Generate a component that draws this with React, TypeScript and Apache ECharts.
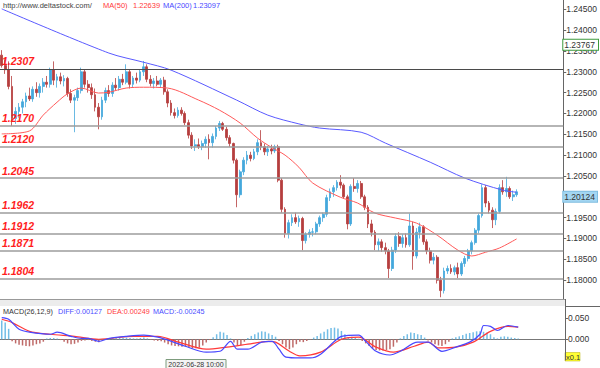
import React, { useEffect, useRef } from 'react';
import * as echarts from 'echarts';

// [open, high, low, close]
const candles: number[][] = [
  [1.2340,1.2352,1.2310,1.2315],[1.2315,1.2330,1.2295,1.2305],[1.2305,1.2325,1.2258,1.2265],[1.2265,1.2290,1.2170,1.2188],
  [1.2188,1.2215,1.2175,1.2205],[1.2205,1.2225,1.2190,1.2215],[1.2215,1.2235,1.2200,1.2228],[1.2228,1.2250,1.2215,1.2242],
  [1.2242,1.2262,1.2230,1.2235],[1.2235,1.2265,1.2228,1.2258],[1.2258,1.2275,1.2240,1.2250],[1.2250,1.2272,1.2238,1.2265],
  [1.2265,1.2285,1.2250,1.2275],[1.2275,1.2290,1.2262,1.2270],[1.2270,1.2310,1.2262,1.2305],[1.2305,1.2325,1.2268,1.2280],
  [1.2280,1.2295,1.2262,1.2288],[1.2288,1.2298,1.2270,1.2278],[1.2278,1.2292,1.2265,1.2284],[1.2284,1.2288,1.2240,1.2248],
  [1.2248,1.2258,1.2225,1.2232],[1.2232,1.2245,1.2155,1.2238],[1.2238,1.2262,1.2230,1.2255],[1.2255,1.2310,1.2248,1.2300],
  [1.2300,1.2305,1.2262,1.2270],[1.2270,1.2280,1.2250,1.2262],[1.2262,1.2272,1.2235,1.2245],[1.2245,1.2260,1.2205,1.2215],
  [1.2215,1.2225,1.2162,1.2192],[1.2192,1.2240,1.2185,1.2232],[1.2232,1.2262,1.2225,1.2255],[1.2255,1.2268,1.2240,1.2248],
  [1.2248,1.2275,1.2240,1.2268],[1.2268,1.2285,1.2255,1.2262],[1.2262,1.2290,1.2255,1.2282],[1.2282,1.2295,1.2268,1.2275],
  [1.2275,1.2318,1.2270,1.2300],[1.2300,1.2305,1.2260,1.2270],[1.2270,1.2290,1.2262,1.2285],[1.2285,1.2298,1.2272,1.2280],
  [1.2280,1.2305,1.2275,1.2300],[1.2300,1.2326,1.2290,1.2312],[1.2312,1.2318,1.2275,1.2282],[1.2282,1.2292,1.2265,1.2272],
  [1.2272,1.2285,1.2260,1.2278],[1.2278,1.2290,1.2265,1.2270],[1.2270,1.2285,1.2262,1.2280],[1.2280,1.2288,1.2245,1.2252],
  [1.2252,1.2258,1.2215,1.2225],[1.2225,1.2232,1.2195,1.2202],[1.2202,1.2212,1.2188,1.2195],[1.2195,1.2215,1.2190,1.2208],
  [1.2208,1.2215,1.2195,1.2200],[1.2200,1.2205,1.2172,1.2178],[1.2178,1.2185,1.2140,1.2148],[1.2148,1.2155,1.2115,1.2122],
  [1.2122,1.2138,1.2110,1.2125],[1.2125,1.2140,1.2115,1.2120],[1.2120,1.2135,1.2112,1.2128],[1.2128,1.2145,1.2118,1.2138],
  [1.2138,1.2150,1.2090,1.2130],[1.2130,1.2152,1.2118,1.2145],[1.2145,1.2170,1.2138,1.2165],[1.2165,1.2182,1.2158,1.2176],
  [1.2176,1.2180,1.2158,1.2162],[1.2162,1.2168,1.2135,1.2142],[1.2142,1.2148,1.2120,1.2128],[1.2128,1.2130,1.2080,1.2088],
  [1.2088,1.2092,1.1975,1.2005],[1.2005,1.2065,1.1998,1.2060],[1.2060,1.2095,1.2052,1.2088],[1.2088,1.2110,1.2078,1.2100],
  [1.2100,1.2108,1.2085,1.2092],[1.2092,1.2115,1.2088,1.2108],[1.2108,1.2138,1.2100,1.2130],[1.2130,1.2160,1.2112,1.2120],
  [1.2120,1.2128,1.2100,1.2108],[1.2108,1.2122,1.2098,1.2115],[1.2115,1.2125,1.2102,1.2110],[1.2110,1.2125,1.2105,1.2120],
  [1.2120,1.2125,1.2035,1.2040],[1.2040,1.2045,1.1962,1.1970],[1.1970,1.1975,1.1902,1.1912],[1.1912,1.1945,1.1900,1.1938],
  [1.1938,1.1958,1.1930,1.1950],[1.1950,1.1962,1.1935,1.1940],[1.1940,1.1955,1.1928,1.1948],[1.1948,1.1952,1.1872,1.1895],
  [1.1895,1.1915,1.1888,1.1910],[1.1910,1.1922,1.1902,1.1915],[1.1915,1.1925,1.1905,1.1916],[1.1916,1.1940,1.1910,1.1935],
  [1.1935,1.1955,1.1928,1.1950],[1.1950,1.1962,1.1940,1.1958],[1.1958,1.2005,1.1952,1.1998],[1.1998,1.2020,1.1990,1.2012],
  [1.2012,1.2028,1.2000,1.2022],[1.2022,1.2040,1.2015,1.2035],[1.2035,1.2052,1.2020,1.2028],[1.2028,1.2032,1.1995,1.2000],
  [1.2000,1.2005,1.1922,1.1935],[1.1935,1.2030,1.1930,1.2025],[1.2025,1.2045,1.2012,1.2020],[1.2020,1.2040,1.2010,1.2032],
  [1.2032,1.2038,1.1995,1.2000],[1.2000,1.2005,1.1968,1.1975],[1.1975,1.1980,1.1925,1.1935],[1.1935,1.1945,1.1905,1.1915],
  [1.1915,1.1920,1.1872,1.1885],[1.1885,1.1900,1.1870,1.1892],[1.1892,1.1898,1.1868,1.1878],[1.1878,1.1890,1.1862,1.1870],
  [1.1870,1.1875,1.1805,1.1828],[1.1828,1.1880,1.1822,1.1872],[1.1872,1.1912,1.1865,1.1905],[1.1905,1.1915,1.1880,1.1888],
  [1.1888,1.1910,1.1878,1.1902],[1.1902,1.1912,1.1878,1.1885],[1.1885,1.1960,1.1880,1.1930],[1.1930,1.1940,1.1825,1.1858],
  [1.1858,1.1925,1.1852,1.1915],[1.1915,1.1938,1.1900,1.1928],[1.1928,1.1932,1.1885,1.1892],[1.1892,1.1898,1.1862,1.1870],
  [1.1870,1.1878,1.1840,1.1848],[1.1848,1.1865,1.1838,1.1855],[1.1855,1.1860,1.1792,1.1800],[1.1800,1.1808,1.1759,1.1775],
  [1.1775,1.1830,1.1768,1.1822],[1.1822,1.1835,1.1815,1.1828],[1.1828,1.1838,1.1815,1.1820],[1.1820,1.1835,1.1812,1.1830],
  [1.1830,1.1842,1.1805,1.1815],[1.1815,1.1845,1.1810,1.1840],[1.1840,1.1858,1.1832,1.1852],[1.1852,1.1875,1.1845,1.1870],
  [1.1870,1.1895,1.1862,1.1890],[1.1890,1.1925,1.1885,1.1920],[1.1920,1.1960,1.1912,1.1955],[1.1955,1.2030,1.1950,1.2022],
  [1.2022,1.2028,1.1975,1.1985],[1.1985,1.1990,1.1960,1.1968],[1.1968,1.1975,1.1925,1.1945],[1.1945,1.1972,1.1932,1.1965],
  [1.1965,1.2030,1.1960,1.2022],[1.2022,1.2040,1.2005,1.2012],[1.2012,1.2048,1.2000,1.2020],[1.2020,1.2025,1.1995,1.2000],
  [1.2000,1.2015,1.1990,1.2005],[1.2005,1.2018,1.2000,1.2012],
];

// [candle index, value]
const ma50: number[][] = [
  [0,1.2151],[8,1.2158],[12,1.2196],[16,1.2227],[19,1.2247],[23,1.2261],[28,1.2249],[31,1.2251],[36,1.2261],
  [41,1.2263],[48,1.2261],[57,1.2232],[63,1.2208],[69,1.2177],[74,1.2141],[78,1.2119],[82,1.2100],[86,1.2071],
  [90,1.2033],[98,1.1999],[103,1.1985],[108,1.1961],[114,1.1949],[120,1.1937],[126,1.1908],[132,1.1872],
  [136,1.1858],[140,1.1867],[144,1.1877],[149,1.1899],
];
const ma200: number[][] = [
  [0,1.2451],[31,1.2345],[41,1.2323],[49,1.2304],[68,1.2232],[77,1.2196],[86,1.2175],[92,1.2165],[104,1.2155],
  [111,1.2129],[124,1.2083],[134,1.2045],[145,1.2016],[149,1.2011],
];

const levels = [1.2307, 1.2170, 1.2120, 1.2045, 1.1962, 1.1912, 1.1871, 1.1804];
const askPrice = 1.23767;
const bidPrice = 1.20124;

const macdHist: number[] = [
  0.045,0.040,0.025,-0.005,-0.010,-0.013,-0.015,-0.016,-0.017,-0.015,-0.012,-0.010,-0.006,0.002,0.003,0.003,
  0.002,-0.002,-0.006,-0.010,-0.012,-0.011,-0.008,-0.004,-0.003,-0.002,-0.004,-0.006,-0.007,-0.004,0.000,0.002,
  0.003,0.004,0.004,0.003,0.004,0.003,0.002,0.002,0.003,0.004,0.002,-0.001,-0.003,-0.004,-0.005,-0.008,
  -0.012,-0.015,-0.016,-0.017,-0.018,-0.018,-0.020,-0.022,-0.022,-0.020,-0.015,-0.008,-0.002,0.005,0.012,0.018,
  0.016,0.010,0.002,-0.008,-0.016,-0.014,-0.006,0.003,0.008,0.012,0.016,0.019,0.018,0.014,0.010,0.006,
  -0.004,-0.012,-0.020,-0.024,-0.020,-0.012,-0.006,-0.007,-0.004,-0.001,0.004,0.008,0.014,0.018,0.024,0.027,
  0.028,0.026,0.020,0.012,0.004,0.006,0.004,0.001,-0.004,-0.010,-0.016,-0.022,-0.026,-0.027,-0.027,-0.026,
  -0.024,-0.018,-0.008,0.002,0.008,0.012,0.016,0.015,0.012,0.010,0.004,-0.003,-0.008,-0.012,-0.015,-0.016,
  -0.012,-0.006,0.002,0.005,0.007,0.010,0.013,0.015,0.017,0.019,0.019,0.018,0.016,0.012,0.005,0.002,
  0.006,0.007,0.006,0.004,0.003,0.002,
];
const diffLine: number[][] = [
  [0,0.052],[2,0.048],[5,0.024],[8,0.017],[14,0.012],[16,0.017],[20,0.007],[23,0.002],[25,0.002],[28,-0.005],
  [31,0.002],[36,0.007],[41,0.010],[45,0.005],[49,-0.005],[53,-0.017],[59,-0.031],[63,-0.029],[66,-0.005],
  [68,-0.024],[71,-0.024],[75,-0.007],[78,-0.005],[80,-0.024],[82,-0.043],[86,-0.045],[89,-0.045],[92,-0.036],
  [96,-0.005],[98,0.007],[103,0.010],[105,-0.005],[108,-0.029],[112,-0.038],[115,-0.029],[120,-0.007],
  [123,-0.007],[127,-0.029],[131,-0.019],[135,-0.007],[138,0.012],[139,0.033],[141,0.031],[143,0.021],
  [146,0.033],[149,0.029],
];
const deaLine: number[][] = [
  [0,0.048],[3,0.040],[8,0.019],[14,0.012],[21,0.007],[28,0.000],[38,0.007],[45,0.007],[51,-0.007],[59,-0.024],
  [65,-0.019],[71,-0.012],[77,-0.005],[79,-0.007],[83,-0.029],[86,-0.040],[92,-0.031],[98,0.000],[103,0.005],
  [108,-0.019],[113,-0.031],[119,-0.017],[123,-0.007],[126,-0.021],[131,-0.019],[136,-0.007],[141,0.019],
  [146,0.031],[149,0.029],
];

const emptySlots = 13;
const timeLabel = '2022-06-28 10:00';

const FONT = "'Liberation Sans', Arial, sans-serif";
const NARROW = "'Liberation Sans Narrow', 'Liberation Sans', Arial, sans-serif";

export default function App() {
  const ref = useRef<HTMLDivElement>(null);
  useEffect(() => {
    const chart = echarts.init(ref.current!, null, { renderer: 'svg' });
    const total = candles.length + emptySlots;
    const cats = Array.from({ length: total }, (_, i) => String(i));
    const up = '#44a8dc';
    const down = '#b53e3e';
    const txt = (x: number, y: number, text: string, fill: string, size = 7.5, weight = 'normal', family = FONT) => ({
      type: 'text', x, y, z: 50,
      style: { text, fill, font: `${weight} ${size}px ${family}`, verticalAlign: 'middle' },
    });
    const option: any = {
      animation: false,
      backgroundColor: '#ffffff',
      textStyle: { fontFamily: FONT },
      grid: [
        { left: 0, right: 35, top: 0, height: 301 },
        { left: 0, right: 35, top: 306, height: 54 },
      ],
      xAxis: [
        { type: 'category', gridIndex: 0, data: cats, axisLine: { show: false }, axisTick: { show: false }, axisLabel: { show: false }, splitLine: { show: false } },
        { type: 'category', gridIndex: 1, data: cats, axisLine: { show: true, lineStyle: { color: '#777', width: 1 } }, axisTick: { show: false }, axisLabel: { show: false }, splitLine: { show: false } },
      ],
      yAxis: [
        {
          type: 'value', gridIndex: 0, position: 'right', min: 1.175, max: 1.24723, interval: 0.005, scale: true,
          axisLine: { show: true, lineStyle: { color: '#666' } },
          axisTick: { show: true, length: 3, lineStyle: { color: '#666' } },
          axisLabel: { margin: 3, fontSize: 8.5, color: '#333', fontFamily: NARROW, showMinLabel: false, showMaxLabel: false, formatter: (v: number) => v.toFixed(5) },
          splitLine: { show: false },
        },
        {
          type: 'value', gridIndex: 1, position: 'right', min: -0.05, max: 0.08, interval: 0.05,
          axisLine: { show: true, lineStyle: { color: '#666' } },
          axisTick: { show: true, length: 3, lineStyle: { color: '#666' } },
          axisLabel: { margin: 3, fontSize: 8.5, color: '#333', fontFamily: NARROW, showMinLabel: false, showMaxLabel: false, formatter: (v: number) => v.toFixed(3) },
          splitLine: { show: false },
        },
      ],
      series: [
        {
          type: 'line', xAxisIndex: 0, yAxisIndex: 0, data: [], z: 1, silent: true,
          markLine: {
            symbol: 'none', silent: true, animation: false, precision: 5,
            label: {
              show: true, position: 'insideStartTop', distance: [2, 2], color: '#ff1e1e', fontWeight: 'bold', fontStyle: 'italic',
              fontSize: 10.5, fontFamily: FONT, formatter: (p: any) => Number(p.value).toFixed(4),
            },
            data: levels.map((v, i) => ({
              yAxis: v,
              lineStyle: { color: i === 0 ? '#4a4a4a' : '#9c9c9c', width: i === 0 ? 1 : 1.6, type: 'solid' },
            })),
          },
        },
        {
          type: 'candlestick', xAxisIndex: 0, yAxisIndex: 0, z: 3, barWidth: 2.3,
          data: candles.map(([o, h, l, c]) => [o, c, l, h]),
          itemStyle: { color: up, color0: down, borderColor: up, borderColor0: down, borderWidth: 0.8 },
        },
        {
          type: 'line', xAxisIndex: 0, yAxisIndex: 0, z: 4, data: ma50, symbol: 'none', smooth: 0.3,
          lineStyle: { color: '#ff5a5a', width: 1 },
        },
        {
          type: 'line', xAxisIndex: 0, yAxisIndex: 0, z: 4, data: ma200, symbol: 'none', smooth: 0.3,
          lineStyle: { color: '#5a5aff', width: 1 },
        },
        {
          type: 'line', xAxisIndex: 0, yAxisIndex: 0, data: [], z: 6, silent: true,
          markLine: {
            symbol: 'none', silent: true, animation: false, precision: 5,
            lineStyle: { color: 'rgba(0,0,0,0)', width: 0 },
            data: [
              {
                yAxis: askPrice,
                label: { show: true, position: 'end', distance: 0, offset: [0, 5], formatter: askPrice.toFixed(5), backgroundColor: '#ffffff', borderColor: '#3d9a3d', borderWidth: 1, padding: [1, 3, 0, 1], color: '#333', fontSize: 8.5, fontFamily: NARROW },
              },
              {
                yAxis: bidPrice,
                label: { show: true, position: 'end', distance: 0, offset: [0, 5], formatter: bidPrice.toFixed(5), backgroundColor: '#a3d6f2', borderColor: '#7fbde0', borderWidth: 1, padding: [1, 2, 0, 1], color: '#333', fontSize: 8.5, fontFamily: NARROW },
              },
            ],
          },
        },
        {
          type: 'bar', xAxisIndex: 1, yAxisIndex: 1, barWidth: 1.5, z: 2,
          data: macdHist.map((v) => ({ value: v, itemStyle: { color: v >= 0 ? '#72bde6' : '#bf6a68' } })),
        },
        {
          type: 'line', xAxisIndex: 1, yAxisIndex: 1, z: 4, data: deaLine, symbol: 'none', smooth: 0.3,
          lineStyle: { color: '#ff3a3a', width: 1.2 },
        },
        {
          type: 'line', xAxisIndex: 1, yAxisIndex: 1, z: 5, data: diffLine, symbol: 'none', smooth: 0.3,
          lineStyle: { color: '#4848ff', width: 1.2 },
        },
      ],
      graphic: [
        { type: 'rect', z: 40, shape: { x: 0, y: 300, width: 565, height: 6 }, style: { fill: '#ececec' } },
        { type: 'line', z: 41, shape: { x1: 0, y1: 299.5, x2: 565, y2: 299.5 }, style: { stroke: '#999', lineWidth: 1 } },
        { type: 'line', z: 41, shape: { x1: 565.5, y1: 299, x2: 565.5, y2: 307 }, style: { stroke: '#666', lineWidth: 1 } },
        { type: 'line', z: 41, shape: { x1: 565, y1: 306.5, x2: 600, y2: 306.5 }, style: { stroke: '#666', lineWidth: 1 } },
        txt(3, 5, 'http://www.deltastock.com/', '#444', 7.5),
        txt(103, 5, 'MA(50)', '#ff3a3a', 7.5),
        txt(133, 5, '1.22639', '#ff3a3a', 7.5),
        txt(163, 5, 'MA(200)', '#4a4aff', 7.5),
        txt(193, 5, '1.23097', '#4a4aff', 7.5),
        txt(3, 311.5, 'MACD(26,12,9)', '#333', 7.2),
        txt(58, 311.5, 'DIFF:0.00127', '#4a4aff', 7.2),
        txt(107, 311.5, 'DEA:0.00249', '#ff3a3a', 7.2),
        txt(153, 311.5, 'MACD:-0.00245', '#4a4aff', 7.2),
        {
          type: 'group', z: 45, x: 166, y: 359.5,
          children: [
            { type: 'rect', shape: { x: 0, y: 0, width: 60, height: 10 }, style: { fill: '#f4f4f4', stroke: '#7d9c7d', lineWidth: 1 } },
            { type: 'text', x: 30, y: 5, style: { text: timeLabel, fill: '#333', font: `7px ${FONT}`, align: 'center', verticalAlign: 'middle' } },
          ],
        },
        {
          type: 'group', z: 45, x: 565, y: 352.5,
          children: [
            { type: 'rect', shape: { x: 0, y: 0, width: 15, height: 8.5 }, style: { fill: '#ffff33', stroke: '#bbb000', lineWidth: 0.5 } },
            { type: 'text', x: 1, y: 4.5, style: { text: 'x0.1', fill: '#333', font: `7.5px ${FONT}`, verticalAlign: 'middle' } },
          ],
        },
      ],
    };
    chart.setOption(option);
    return () => chart.dispose();
  }, []);
  return (
    <div
      ref={ref}
      style={{ position: 'absolute', left: 0, top: 0, width: 600, height: 368, background: '#fff' }}
    />
  );
}
